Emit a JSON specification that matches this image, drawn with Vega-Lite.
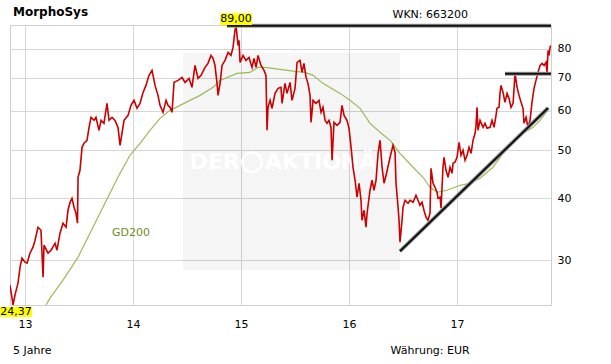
{
  "$schema": "https://vega.github.io/schema/vega-lite/v6.json",
  "width": 541,
  "height": 280,
  "autosize": {"type": "none"},
  "padding": {"left": 10, "top": 25, "right": 60, "bottom": 59},
  "background": "white",
  "config": {
    "font": "DejaVu Sans",
    "view": {"stroke": "#cfcfcf", "strokeWidth": 1},
    "axis": {
      "labelFont": "DejaVu Sans", "titleFont": "DejaVu Sans",
      "labelFontSize": 11, "titleFontSize": 11,
      "labelColor": "#000000", "titleColor": "#000000",
      "titleFontWeight": "normal",
      "gridColor": "#d6d6d6", "gridWidth": 1,
      "domain": false, "ticks": false, "tickSize": 0
    }
  },
  "datasets": {
    "watermark": [{"t1": 2014.463, "t2": 2016.472, "p1": 28.67, "p2": 78.53}],
    "wmtext": [{"t": 2014.755, "p": 47.24, "label": "DER"}, {"t": 2015.815, "p": 47.24, "label": "AKTIONÄR"}],
    "globe": [{"t": 2015.102, "p": 47.24}],
    "gd200": [
      {"t": 2013.194, "p": 24.37}, {"t": 2013.231, "p": 25.16}, {"t": 2013.352, "p": 27.35}, {"t": 2013.491, "p": 30.42},
      {"t": 2013.694, "p": 37.30}, {"t": 2013.870, "p": 44.48}, {"t": 2013.972, "p": 48.79}, {"t": 2014.065, "p": 51.59},
      {"t": 2014.157, "p": 54.79}, {"t": 2014.250, "p": 57.92}, {"t": 2014.343, "p": 60.11}, {"t": 2014.528, "p": 62.96},
      {"t": 2014.620, "p": 64.43}, {"t": 2014.741, "p": 66.87}, {"t": 2014.806, "p": 69.07}, {"t": 2014.963, "p": 71.35},
      {"t": 2015.083, "p": 71.68}, {"t": 2015.157, "p": 73.36}, {"t": 2015.222, "p": 73.36}, {"t": 2015.361, "p": 72.68},
      {"t": 2015.500, "p": 72.01}, {"t": 2015.593, "p": 71.68}, {"t": 2015.667, "p": 70.69}, {"t": 2015.759, "p": 68.12},
      {"t": 2015.917, "p": 65.03}, {"t": 2016.009, "p": 62.96}, {"t": 2016.102, "p": 60.68}, {"t": 2016.194, "p": 56.60},
      {"t": 2016.287, "p": 54.28}, {"t": 2016.380, "p": 52.31}, {"t": 2016.472, "p": 49.25}, {"t": 2016.593, "p": 46.16},
      {"t": 2016.685, "p": 44.07}, {"t": 2016.750, "p": 42.07}, {"t": 2016.815, "p": 41.11}, {"t": 2016.907, "p": 41.49},
      {"t": 2017.028, "p": 42.46}, {"t": 2017.120, "p": 42.86}, {"t": 2017.213, "p": 43.87}, {"t": 2017.333, "p": 46.16},
      {"t": 2017.426, "p": 49.25}, {"t": 2017.519, "p": 51.83}, {"t": 2017.611, "p": 54.03}, {"t": 2017.704, "p": 55.56},
      {"t": 2017.769, "p": 57.39}, {"t": 2017.852, "p": 60.68}
    ],
    "gdlabel": [{"t": 2013.806, "p": 34.0, "label": "GD200"}],
    "price": [
      {"t": 2012.861, "p": 26.72}, {"t": 2012.880, "p": 25.16}, {"t": 2012.889, "p": 24.37}, {"t": 2012.907, "p": 25.51},
      {"t": 2012.935, "p": 26.97}, {"t": 2012.954, "p": 29.04}, {"t": 2012.972, "p": 30.28}, {"t": 2013.000, "p": 29.72},
      {"t": 2013.019, "p": 29.58}, {"t": 2013.046, "p": 30.99}, {"t": 2013.074, "p": 31.87}, {"t": 2013.093, "p": 32.91},
      {"t": 2013.120, "p": 34.95}, {"t": 2013.148, "p": 34.47}, {"t": 2013.167, "p": 27.73}, {"t": 2013.176, "p": 32.16},
      {"t": 2013.213, "p": 30.99}, {"t": 2013.241, "p": 31.42}, {"t": 2013.278, "p": 32.46}, {"t": 2013.296, "p": 31.42},
      {"t": 2013.324, "p": 34.00}, {"t": 2013.352, "p": 35.61}, {"t": 2013.380, "p": 34.95}, {"t": 2013.398, "p": 37.82},
      {"t": 2013.417, "p": 39.25}, {"t": 2013.435, "p": 39.98}, {"t": 2013.454, "p": 38.35}, {"t": 2013.472, "p": 37.30},
      {"t": 2013.486, "p": 35.61}, {"t": 2013.491, "p": 44.07}, {"t": 2013.509, "p": 45.52}, {"t": 2013.528, "p": 50.64},
      {"t": 2013.546, "p": 51.59}, {"t": 2013.574, "p": 52.31}, {"t": 2013.593, "p": 55.56}, {"t": 2013.611, "p": 58.20},
      {"t": 2013.639, "p": 57.39}, {"t": 2013.657, "p": 58.20}, {"t": 2013.685, "p": 54.79}, {"t": 2013.704, "p": 57.39},
      {"t": 2013.731, "p": 56.60}, {"t": 2013.759, "p": 62.10}, {"t": 2013.778, "p": 57.39}, {"t": 2013.806, "p": 58.20},
      {"t": 2013.833, "p": 57.39}, {"t": 2013.861, "p": 55.56}, {"t": 2013.880, "p": 51.11}, {"t": 2013.917, "p": 57.39},
      {"t": 2013.954, "p": 58.73}, {"t": 2013.981, "p": 61.52}, {"t": 2014.009, "p": 62.96}, {"t": 2014.037, "p": 60.68},
      {"t": 2014.065, "p": 62.10}, {"t": 2014.093, "p": 65.33}, {"t": 2014.120, "p": 67.49}, {"t": 2014.148, "p": 70.69},
      {"t": 2014.176, "p": 72.35}, {"t": 2014.204, "p": 67.49}, {"t": 2014.231, "p": 64.43}, {"t": 2014.250, "p": 61.52},
      {"t": 2014.278, "p": 59.56}, {"t": 2014.306, "p": 62.96}, {"t": 2014.324, "p": 61.52}, {"t": 2014.343, "p": 60.96},
      {"t": 2014.361, "p": 59.56}, {"t": 2014.380, "p": 68.44}, {"t": 2014.417, "p": 69.07}, {"t": 2014.454, "p": 70.04},
      {"t": 2014.481, "p": 68.44}, {"t": 2014.519, "p": 69.72}, {"t": 2014.546, "p": 66.87}, {"t": 2014.574, "p": 74.04},
      {"t": 2014.602, "p": 69.72}, {"t": 2014.630, "p": 70.69}, {"t": 2014.667, "p": 73.36}, {"t": 2014.694, "p": 74.73},
      {"t": 2014.722, "p": 77.55}, {"t": 2014.741, "p": 76.48}, {"t": 2014.759, "p": 74.04}, {"t": 2014.778, "p": 68.12},
      {"t": 2014.787, "p": 64.43}, {"t": 2014.806, "p": 68.12}, {"t": 2014.824, "p": 74.04}, {"t": 2014.852, "p": 75.78},
      {"t": 2014.880, "p": 78.64}, {"t": 2014.907, "p": 77.55}, {"t": 2014.926, "p": 80.47}, {"t": 2014.944, "p": 87.08},
      {"t": 2014.954, "p": 89.00}, {"t": 2014.963, "p": 85.09}, {"t": 2014.972, "p": 81.23}, {"t": 2014.981, "p": 83.14},
      {"t": 2014.991, "p": 75.08}, {"t": 2015.019, "p": 77.55}, {"t": 2015.046, "p": 75.78}, {"t": 2015.074, "p": 76.84},
      {"t": 2015.102, "p": 73.36}, {"t": 2015.120, "p": 76.48}, {"t": 2015.139, "p": 73.36}, {"t": 2015.157, "p": 77.55},
      {"t": 2015.185, "p": 74.04}, {"t": 2015.213, "p": 72.35}, {"t": 2015.231, "p": 70.69}, {"t": 2015.241, "p": 54.79},
      {"t": 2015.250, "p": 60.96}, {"t": 2015.269, "p": 62.96}, {"t": 2015.287, "p": 60.68}, {"t": 2015.315, "p": 65.03},
      {"t": 2015.343, "p": 66.56}, {"t": 2015.370, "p": 66.87}, {"t": 2015.380, "p": 62.10}, {"t": 2015.407, "p": 68.12},
      {"t": 2015.426, "p": 65.03}, {"t": 2015.454, "p": 68.44}, {"t": 2015.472, "p": 62.96}, {"t": 2015.500, "p": 66.56},
      {"t": 2015.519, "p": 75.08}, {"t": 2015.546, "p": 75.78}, {"t": 2015.565, "p": 71.68}, {"t": 2015.583, "p": 74.73},
      {"t": 2015.602, "p": 70.04}, {"t": 2015.620, "p": 68.12}, {"t": 2015.639, "p": 64.43}, {"t": 2015.648, "p": 56.86},
      {"t": 2015.667, "p": 62.96}, {"t": 2015.694, "p": 62.10}, {"t": 2015.722, "p": 62.96}, {"t": 2015.741, "p": 59.56},
      {"t": 2015.759, "p": 60.96}, {"t": 2015.778, "p": 57.39}, {"t": 2015.796, "p": 56.60}, {"t": 2015.815, "p": 57.39},
      {"t": 2015.833, "p": 55.56}, {"t": 2015.843, "p": 47.68}, {"t": 2015.861, "p": 56.86}, {"t": 2015.889, "p": 56.07},
      {"t": 2015.917, "p": 56.86}, {"t": 2015.935, "p": 61.52}, {"t": 2015.954, "p": 58.73}, {"t": 2015.981, "p": 57.39},
      {"t": 2016.000, "p": 55.30}, {"t": 2016.019, "p": 50.64}, {"t": 2016.037, "p": 46.16}, {"t": 2016.056, "p": 43.46},
      {"t": 2016.074, "p": 40.17}, {"t": 2016.093, "p": 42.86}, {"t": 2016.111, "p": 39.61}, {"t": 2016.120, "p": 36.10},
      {"t": 2016.139, "p": 37.82}, {"t": 2016.157, "p": 34.95}, {"t": 2016.167, "p": 37.30}, {"t": 2016.194, "p": 41.49},
      {"t": 2016.213, "p": 43.46}, {"t": 2016.231, "p": 41.49}, {"t": 2016.250, "p": 43.46}, {"t": 2016.269, "p": 49.25},
      {"t": 2016.287, "p": 52.31}, {"t": 2016.306, "p": 46.16}, {"t": 2016.324, "p": 42.86}, {"t": 2016.343, "p": 44.48},
      {"t": 2016.380, "p": 48.35}, {"t": 2016.407, "p": 51.11}, {"t": 2016.426, "p": 49.48}, {"t": 2016.435, "p": 42.86},
      {"t": 2016.454, "p": 38.35}, {"t": 2016.463, "p": 36.10}, {"t": 2016.472, "p": 32.61}, {"t": 2016.491, "p": 36.10},
      {"t": 2016.500, "p": 38.35}, {"t": 2016.519, "p": 39.61}, {"t": 2016.546, "p": 39.07}, {"t": 2016.565, "p": 39.61},
      {"t": 2016.593, "p": 39.25}, {"t": 2016.620, "p": 40.54}, {"t": 2016.639, "p": 39.61}, {"t": 2016.657, "p": 38.70},
      {"t": 2016.676, "p": 39.25}, {"t": 2016.694, "p": 37.82}, {"t": 2016.713, "p": 36.61}, {"t": 2016.731, "p": 36.10},
      {"t": 2016.750, "p": 37.30}, {"t": 2016.759, "p": 45.95}, {"t": 2016.778, "p": 42.86}, {"t": 2016.796, "p": 42.07},
      {"t": 2016.815, "p": 41.11}, {"t": 2016.824, "p": 39.98}, {"t": 2016.843, "p": 40.17}, {"t": 2016.852, "p": 38.17},
      {"t": 2016.870, "p": 46.16}, {"t": 2016.880, "p": 48.35}, {"t": 2016.898, "p": 45.52}, {"t": 2016.917, "p": 44.07},
      {"t": 2016.935, "p": 46.16}, {"t": 2016.954, "p": 44.90}, {"t": 2016.963, "p": 47.02}, {"t": 2016.981, "p": 47.24},
      {"t": 2017.000, "p": 48.35}, {"t": 2017.019, "p": 51.83}, {"t": 2017.037, "p": 48.79}, {"t": 2017.056, "p": 49.94},
      {"t": 2017.074, "p": 47.68}, {"t": 2017.093, "p": 48.79}, {"t": 2017.111, "p": 50.64}, {"t": 2017.130, "p": 49.25},
      {"t": 2017.148, "p": 52.31}, {"t": 2017.167, "p": 54.03}, {"t": 2017.176, "p": 56.07}, {"t": 2017.185, "p": 60.96},
      {"t": 2017.194, "p": 54.79}, {"t": 2017.213, "p": 57.39}, {"t": 2017.241, "p": 55.56}, {"t": 2017.259, "p": 56.60},
      {"t": 2017.278, "p": 55.30}, {"t": 2017.306, "p": 55.56}, {"t": 2017.324, "p": 57.39}, {"t": 2017.343, "p": 55.56},
      {"t": 2017.361, "p": 58.73}, {"t": 2017.370, "p": 60.68}, {"t": 2017.389, "p": 60.96}, {"t": 2017.398, "p": 65.03},
      {"t": 2017.407, "p": 67.49}, {"t": 2017.426, "p": 65.33}, {"t": 2017.444, "p": 62.38}, {"t": 2017.463, "p": 65.03},
      {"t": 2017.481, "p": 63.55}, {"t": 2017.500, "p": 60.96}, {"t": 2017.519, "p": 62.10}, {"t": 2017.537, "p": 71.35},
      {"t": 2017.556, "p": 66.87}, {"t": 2017.574, "p": 64.43}, {"t": 2017.593, "p": 62.38}, {"t": 2017.611, "p": 60.68},
      {"t": 2017.620, "p": 56.60}, {"t": 2017.639, "p": 58.20}, {"t": 2017.657, "p": 55.56}, {"t": 2017.676, "p": 57.39},
      {"t": 2017.694, "p": 62.38}, {"t": 2017.713, "p": 66.56}, {"t": 2017.731, "p": 69.07}, {"t": 2017.750, "p": 71.68},
      {"t": 2017.769, "p": 74.04}, {"t": 2017.787, "p": 74.73}, {"t": 2017.806, "p": 74.04}, {"t": 2017.824, "p": 75.08},
      {"t": 2017.833, "p": 71.68}, {"t": 2017.843, "p": 79.37}, {"t": 2017.852, "p": 77.55}, {"t": 2017.861, "p": 80.47},
      {"t": 2017.870, "p": 81.23}
    ],
    "trend": [
      {"t1": 2014.870, "t2": 2017.870, "p1": 89.0, "p2": 89.0},
      {"t1": 2017.444, "t2": 2017.870, "p1": 71.25, "p2": 71.25},
      {"t1": 2016.472, "t2": 2017.843, "p1": 31.28, "p2": 60.75}
    ],
    "boxes": [
      {"t1": 2014.806, "t2": 2015.102, "p1": 89.3, "p2": 94.28},
      {"t1": 2012.769, "t2": 2013.065, "p1": 23.05, "p2": 24.145}
    ],
    "boxtext": [
      {"t": 2014.954, "p": 91.82, "label": "89,00"},
      {"t": 2012.917, "p": 23.59, "label": "24,37"}
    ]
  },
  "layer": [
    {
      "data": {"name": "watermark"},
      "mark": {"type": "rect", "fill": "#000000", "opacity": 0.04},
      "encoding": {
        "x": {"field": "t1", "type": "quantitative", "scale": {"type": "linear", "domain": [2012.861, 2017.870], "nice": false, "zero": false}, "axis": null},
        "x2": {"field": "t2"},
        "y": {"field": "p1", "type": "quantitative", "scale": {"type": "log", "domain": [24.37, 89.3], "nice": false}, "axis": null},
        "y2": {"field": "p2"}
      }
    },
    {
      "data": {"name": "wmtext"},
      "mark": {"type": "text", "color": "#ffffff", "fontSize": 22, "fontWeight": "bold", "font": "DejaVu Sans", "align": "center", "baseline": "middle"},
      "encoding": {
        "x": {"field": "t", "type": "quantitative", "axis": null},
        "y": {"field": "p", "type": "quantitative", "axis": null},
        "text": {"field": "label"}
      }
    },
    {
      "data": {"name": "globe"},
      "mark": {"type": "point", "shape": "circle", "filled": false, "stroke": "#ffffff", "strokeWidth": 2.5, "size": 380, "opacity": 1},
      "encoding": {
        "x": {"field": "t", "type": "quantitative", "axis": null},
        "y": {"field": "p", "type": "quantitative", "axis": null}
      }
    },
    {
      "data": {"name": "gd200"},
      "mark": {"type": "line", "color": "#9bbb59", "strokeWidth": 1.2, "clip": true},
      "encoding": {
        "x": {"field": "t", "type": "quantitative",
          "axis": {"orient": "top", "labels": false, "grid": false, "title": "MorphoSys", "titleFontSize": 12, "titleFontWeight": "bold", "titleX": 2.5, "titleY": -10, "titleAlign": "left", "titleBaseline": "alphabetic", "titleAngle": 0}},
        "y": {"field": "p", "type": "quantitative",
          "axis": {"orient": "left", "labels": false, "grid": false, "title": "5 Jahre", "titleX": 2.5, "titleY": 328, "titleAlign": "left", "titleBaseline": "alphabetic", "titleAngle": 0}}
      }
    },
    {
      "data": {"name": "gdlabel"},
      "mark": {"type": "text", "color": "#6b8e23", "fontSize": 11, "font": "DejaVu Sans", "align": "left", "baseline": "middle"},
      "encoding": {
        "x": {"field": "t", "type": "quantitative", "axis": null},
        "y": {"field": "p", "type": "quantitative", "axis": null},
        "text": {"field": "label"}
      }
    },
    {
      "data": {"name": "price"},
      "mark": {"type": "line", "color": "#cc0000", "strokeWidth": 1.6, "clip": true},
      "encoding": {
        "x": {"field": "t", "type": "quantitative",
          "axis": {"orient": "bottom", "values": [2013, 2014, 2015, 2016, 2017], "labelExpr": "substring(toString(datum.value), 2, 4)", "grid": true, "labelPadding": 13, "labelFlush": false, "title": "Währung: EUR", "titleX": 380, "titleY": 48, "titleAlign": "left", "titleBaseline": "alphabetic"}},
        "y": {"field": "p", "type": "quantitative",
          "axis": {"orient": "right", "values": [30, 40, 50, 60, 70, 80], "format": "d", "grid": true, "labelPadding": 6, "title": "WKN: 663200", "titleAngle": 0, "titleX": -159, "titleY": -8, "titleAlign": "left", "titleBaseline": "alphabetic"}}
      }
    },
    {
      "data": {"name": "trend"},
      "mark": {"type": "rule", "color": "#9a9a9a", "strokeWidth": 4},
      "encoding": {
        "x": {"field": "t1", "type": "quantitative", "axis": null},
        "x2": {"field": "t2"},
        "y": {"field": "p1", "type": "quantitative", "axis": null},
        "y2": {"field": "p2"}
      }
    },
    {
      "data": {"name": "trend"},
      "mark": {"type": "rule", "color": "#111111", "strokeWidth": 2},
      "encoding": {
        "x": {"field": "t1", "type": "quantitative", "axis": null},
        "x2": {"field": "t2"},
        "y": {"field": "p1", "type": "quantitative", "axis": null},
        "y2": {"field": "p2"}
      }
    },
    {
      "data": {"name": "boxes"},
      "mark": {"type": "rect", "fill": "#ffff00"},
      "encoding": {
        "x": {"field": "t1", "type": "quantitative", "axis": null},
        "x2": {"field": "t2"},
        "y": {"field": "p1", "type": "quantitative", "axis": null},
        "y2": {"field": "p2"}
      }
    },
    {
      "data": {"name": "boxtext"},
      "mark": {"type": "text", "color": "#000000", "fontSize": 11, "font": "DejaVu Sans", "align": "center", "baseline": "middle"},
      "encoding": {
        "x": {"field": "t", "type": "quantitative", "axis": null},
        "y": {"field": "p", "type": "quantitative", "axis": null},
        "text": {"field": "label"}
      }
    }
  ],
  "resolve": {"axis": {"x": "independent", "y": "independent"}}
}
